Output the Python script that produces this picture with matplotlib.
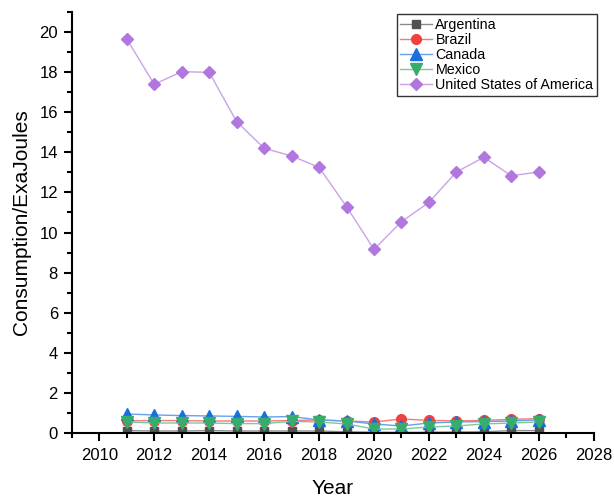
import numpy as np
import matplotlib.pyplot as plt
from matplotlib.ticker import MultipleLocator

plt.rcParams['font.family'] = ['Liberation Sans', 'DejaVu Sans']

years = list(range(2011, 2027))
argentina = [0.12, 0.10, 0.10, 0.12, 0.10, 0.10, 0.10, 0.10, 0.06, 0.04, 0.03, 0.04, 0.05, 0.06, 0.12, 0.12]
brazil = [0.60, 0.62, 0.62, 0.60, 0.60, 0.60, 0.62, 0.65, 0.60, 0.55, 0.70, 0.63, 0.60, 0.63, 0.68, 0.72]
canada = [0.95, 0.90, 0.87, 0.85, 0.83, 0.80, 0.82, 0.65, 0.60, 0.45, 0.35, 0.50, 0.55, 0.57, 0.60, 0.65]
mexico = [0.55, 0.50, 0.50, 0.50, 0.47, 0.47, 0.58, 0.55, 0.45, 0.20, 0.20, 0.30, 0.35, 0.45, 0.50, 0.55]
usa = [19.65, 17.39, 18.02, 17.99, 15.53, 14.20, 13.82, 13.25, 11.29, 9.16, 10.54, 11.50, 13.02, 13.75, 12.83, 13.02]

series = [
    ('Argentina', argentina, 's', '#515151', '#8a8a8a', 6),
    ('Brazil', brazil, 'o', '#F14040', '#f47a7a', 7),
    ('Canada', canada, '^', '#1A6FDF', '#6aa0ea', 8),
    ('Mexico', mexico, 'v', '#37AD6B', '#7cc99c', 8),
    ('United States of America', usa, 'D', '#B177DE', '#c9a3e8', 6.5),
]

fig = plt.figure(figsize=(6.14, 4.98), dpi=100)
ax = fig.add_axes([0.117, 0.1305, 0.85, 0.8455])

for name, vals, mk, c, lc, ms in series:
    ax.plot(years, vals, color=lc, lw=1.0, marker=mk, markersize=ms,
            markerfacecolor=c, markeredgecolor=c, label=name)

ax.set_xlim(2009, 2028)
ax.set_ylim(0, 21)
ax.xaxis.set_major_locator(MultipleLocator(2))
ax.xaxis.set_minor_locator(MultipleLocator(1))
ax.yaxis.set_major_locator(MultipleLocator(2))
ax.yaxis.set_minor_locator(MultipleLocator(1))
ax.spines['top'].set_visible(False)
ax.spines['right'].set_visible(False)
for s in ['left', 'bottom']:
    ax.spines[s].set_linewidth(1.5)
ax.tick_params(which='major', direction='out', length=6, width=1.5, labelsize=12)
ax.tick_params(axis='x', which='major', pad=5)
ax.tick_params(axis='y', which='major', pad=4)
ax.tick_params(which='minor', direction='out', length=3.5, width=1.5)

ax.set_xlabel('Year', fontsize=15, labelpad=11)
ax.set_ylabel('Consumption/ExaJoules', fontsize=15, labelpad=6)

leg = ax.legend(loc='upper right', bbox_to_anchor=(597 / 614, 1 - 14 / 498),
                bbox_transform=fig.transFigure, fontsize=10.3,
                frameon=True, fancybox=False, edgecolor='black',
                labelspacing=0.08, handlelength=2.2, handletextpad=0.25,
                borderpad=0.25, borderaxespad=0.0)
leg.get_frame().set_linewidth(1.0)

fig.savefig('out.png', dpi=100)
